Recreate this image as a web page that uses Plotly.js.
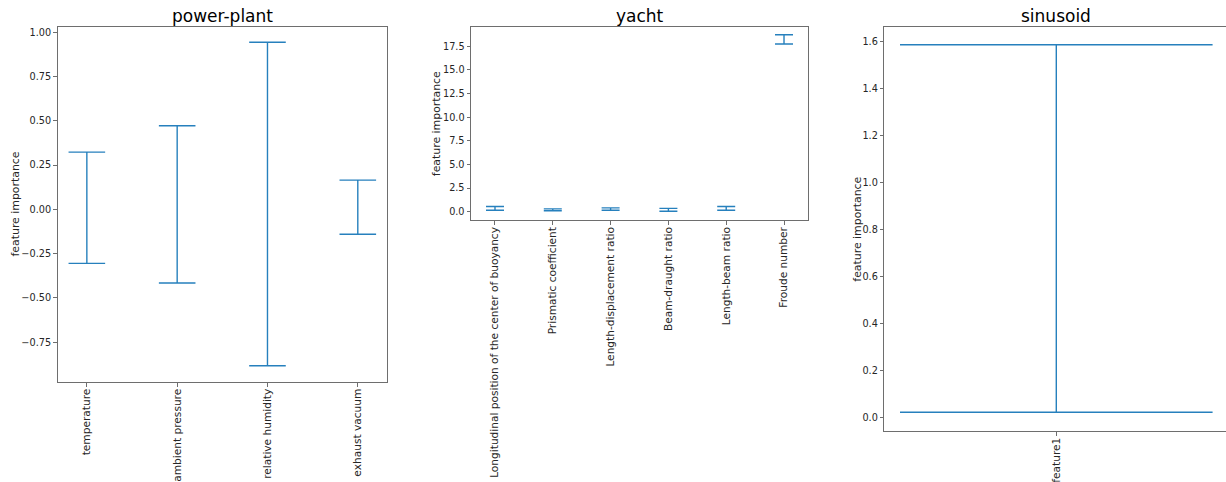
<!DOCTYPE html>
<html>
<head>
<meta charset="utf-8">
<script src="https://cdn.plot.ly/plotly-3.0.1.min.js"></script>
<style>html,body{margin:0;padding:0;background:#fff;}#chart{width:1226px;height:482px;}</style>
</head>
<body>
<div id="chart"></div>
<script>
// ---- data (min / max of feature importance per feature) ----
const ppFeatures = ['temperature', 'ambient pressure', 'relative humidity', 'exhaust vacuum'];
const ppMin = [-0.305, -0.416, -0.883, -0.141];
const ppMax = [0.323, 0.472, 0.943, 0.165];

const yachtFeatures = ['Longitudinal position of the center of buoyancy', 'Prismatic coefficient',
  'Length-displacement ratio', 'Beam-draught ratio', 'Length-beam ratio', 'Froude number'];
const yachtMin = [0.15, 0.10, 0.15, 0.05, 0.15, 17.75];
const yachtMax = [0.55, 0.30, 0.40, 0.35, 0.55, 18.73];

const sinFeatures = ['feature1'];
const sinMin = [0.023];
const sinMax = [1.587];

const panelTitles = ['power-plant', 'yacht', 'sinusoid'];
const yLabel = 'feature importance';

// ---- helpers ----
const W = 1226, H = 482;
const px = v => v / W;
const py = v => 1 - v / H;
const LINE = '#2680bd';
const FONT = 'DejaVu Sans';

function rangeTrace(xs, mins, maxs, xa, ya, capW) {
  const mid = mins.map((m, i) => (m + maxs[i]) / 2);
  const half = mins.map((m, i) => (maxs[i] - m) / 2);
  return {
    type: 'scatter', mode: 'markers', x: xs, y: mid, xaxis: xa, yaxis: ya,
    marker: {size: 1, opacity: 0}, hoverinfo: 'skip', showlegend: false,
    error_y: {type: 'data', array: half, symmetric: true, visible: true,
      color: LINE, thickness: 1.4, width: capW}
  };
}

const data = [
  rangeTrace(ppFeatures, ppMin, ppMax, 'x', 'y', 18.3),
  rangeTrace(yachtFeatures, yachtMin, yachtMax, 'x2', 'y2', 9),
  rangeTrace(sinFeatures, sinMin, sinMax, 'x3', 'y3', 156.3)
];

const axColor = '#6e6e6e';
const xBase = {type: 'category', showline: true, mirror: true, linecolor: axColor, linewidth: 1,
  ticks: 'outside', ticklen: 3.5, tickcolor: axColor, tickangle: -90, showgrid: false, zeroline: false,
  ticklabelstandoff: -2,
  tickfont: {family: FONT, size: 10.6, color: '#262626'}, automargin: false, fixedrange: true};
const yBase = {showline: true, mirror: true, linecolor: axColor, linewidth: 1,
  ticks: 'outside', ticklen: 3.5, tickcolor: axColor, showgrid: false, zeroline: false,
  tickfont: {family: FONT, size: 9.7, color: '#262626'}, automargin: false, fixedrange: true};

const layout = {
  width: W, height: H,
  margin: {l: 0, r: 0, t: 0, b: 0},
  paper_bgcolor: '#fff', plot_bgcolor: '#fff',
  showlegend: false,
  xaxis: Object.assign({}, xBase, {domain: [px(57.5), px(386.7)], range: [-0.325, 3.32], anchor: 'y'}),
  yaxis: Object.assign({}, yBase, {domain: [py(382), py(26.7)], range: [-0.975, 1.031],
    tickmode: 'linear', tick0: 0, dtick: 0.25, tickformat: '.2f', anchor: 'x'}),
  xaxis2: Object.assign({}, xBase, {domain: [px(471), px(808)], range: [-0.415, 5.415], anchor: 'y2'}),
  yaxis2: Object.assign({}, yBase, {domain: [py(220.3), py(26.7)], range: [-0.91, 19.58],
    tickmode: 'linear', tick0: 0, dtick: 2.5, tickformat: '.1f', anchor: 'x2'}),
  xaxis3: Object.assign({}, xBase, {domain: [px(884.3), 1], range: [-0.55, 0.5427], anchor: 'y3'}),
  yaxis3: Object.assign({}, yBase, {domain: [py(431), py(26.7)], range: [-0.057, 1.664],
    tickmode: 'linear', tick0: 0, dtick: 0.2, tickformat: '.1f', anchor: 'x3'}),
  annotations: [
    {text: panelTitles[0], x: px(222), y: py(16), xref: 'paper', yref: 'paper', showarrow: false,
      xanchor: 'center', yanchor: 'middle', font: {family: FONT, size: 17, color: '#000'}},
    {text: panelTitles[1], x: px(639.5), y: py(16), xref: 'paper', yref: 'paper', showarrow: false,
      xanchor: 'center', yanchor: 'middle', font: {family: FONT, size: 17, color: '#000'}},
    {text: panelTitles[2], x: px(1056.3), y: py(16), xref: 'paper', yref: 'paper', showarrow: false,
      xanchor: 'center', yanchor: 'middle', font: {family: FONT, size: 17, color: '#000'}},
    {text: yLabel, x: px(15), y: py(204.5), xref: 'paper', yref: 'paper', showarrow: false, textangle: -90,
      xanchor: 'center', yanchor: 'middle', font: {family: FONT, size: 10.9, color: '#262626'}},
    {text: yLabel, x: px(436.7), y: py(123.5), xref: 'paper', yref: 'paper', showarrow: false, textangle: -90,
      xanchor: 'center', yanchor: 'middle', font: {family: FONT, size: 10.9, color: '#262626'}},
    {text: yLabel, x: px(856.7), y: py(229), xref: 'paper', yref: 'paper', showarrow: false, textangle: -90,
      xanchor: 'center', yanchor: 'middle', font: {family: FONT, size: 10.9, color: '#262626'}}
  ]
};

Plotly.newPlot('chart', data, layout, {staticPlot: true, displayModeBar: false});
</script>
</body>
</html>
